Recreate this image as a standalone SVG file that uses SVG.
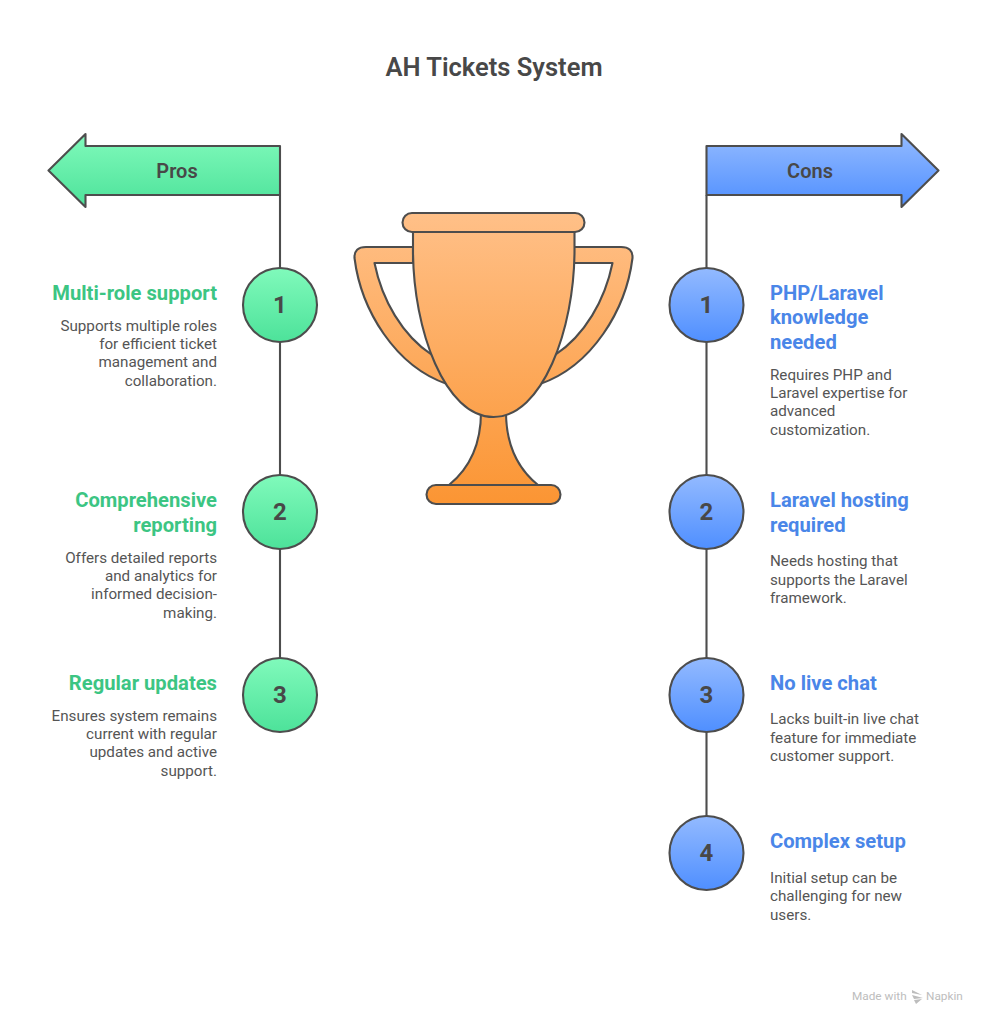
<svg xmlns="http://www.w3.org/2000/svg" width="987" height="1024" viewBox="0 0 987 1024">
<style>
text{font-family:Roboto,"Liberation Sans",sans-serif}
.s{stroke:#4d4d4d;stroke-width:2.1;stroke-linejoin:round}
.title{font-size:25.5px;font-weight:600;fill:#484848;text-anchor:middle}
.band{font-size:20px;font-weight:600;fill:#484848;text-anchor:middle}
.num{font-size:24px;font-weight:700;fill:#484848;text-anchor:middle}
.h{font-size:20.2px;font-weight:700}
.g{fill:#3cc583}.b{fill:#4a86e8}
.d{font-size:15.2px;fill:#555}
.r{text-anchor:end}
.gf{fill:url(#green)}.bf{fill:url(#blue)}
.tf{fill:url(#tro)}
.mark{font-size:11.8px;fill:#bdbdbd}
</style>
<defs>
<linearGradient id="green" x1="0" y1="0" x2="0" y2="1"><stop offset="0" stop-color="#80fabb"/><stop offset="1" stop-color="#4de29a"/></linearGradient>
<linearGradient id="blue" x1="0" y1="0" x2="0" y2="1"><stop offset="0" stop-color="#93baff"/><stop offset="1" stop-color="#4f8fff"/></linearGradient>
<linearGradient id="tro" gradientUnits="userSpaceOnUse" x1="0" y1="213" x2="0" y2="504"><stop offset="0" stop-color="#ffc088"/><stop offset="1" stop-color="#fb9533"/></linearGradient>
</defs>
<rect width="987" height="1024" fill="#fff"/>
<text class="title" x="494" y="76">AH Tickets System</text>
<g id="connectors" fill="none" class="s">
<path d="M280 195V268M280 342V475M280 549V658"/>
<path d="M706.500 195V268M706.500 342V475M706.500 549V658M706.500 732V816"/>
</g>
<g id="pros-arrow"><path class="s gf" d="M280 146V195H85.500V207L48.500 170.500L85.500 134V146Z"/><text class="band" x="177" y="178">Pros</text></g>
<g id="cons-arrow"><path class="s bf" d="M706.500 146V195H901.500V207L938.500 170.500L901.500 134V146Z"/><text class="band" x="810" y="178">Cons</text></g>
<g id="trophy">
<path class="s tf" fill-rule="evenodd" d="M413 247H366Q354 247 354.500 258C361 310 395 366 447 384L470 400H517L540 384C592 366 626 310 632.500 258Q633 247 621 247H574V263H612.500C605 300 585 335 555 355L540 372H447L432 355C402 335 382 300 374.500 263H413Z"/>
<path class="s tf" d="M481 412C481 445 470 468 449 485H538C517 468 506 445 506 412Z"/>
<path class="s tf" d="M413 232V250C413 330 445 417 493.500 417C542 417 574.500 330 574.500 250V232Z"/>
<rect class="s tf" x="402.500" y="213" width="182" height="19" rx="9.500"/>
<rect class="s tf" x="426.500" y="485" width="134" height="19" rx="9.500"/>
</g>
<g id="pro-1"><circle class="s gf" cx="280" cy="305" r="37"/><text class="num" x="280" y="313">1</text>
<text class="h g r" x="217" y="300">Multi-role support</text>
<text class="d r" x="217" y="331">Supports multiple roles</text><text class="d r" x="217" y="349">for efficient ticket</text><text class="d r" x="217" y="367">management and</text><text class="d r" x="217" y="386">collaboration.</text></g>
<g id="pro-2"><circle class="s gf" cx="280" cy="512" r="37"/><text class="num" x="280" y="520">2</text>
<text class="h g r" x="217" y="507">Comprehensive</text><text class="h g r" x="217" y="532">reporting</text>
<text class="d r" x="217" y="563">Offers detailed reports</text><text class="d r" x="217" y="581">and analytics for</text><text class="d r" x="217" y="599">informed decision-</text><text class="d r" x="217" y="618">making.</text></g>
<g id="pro-3"><circle class="s gf" cx="280" cy="695" r="37"/><text class="num" x="280" y="703">3</text>
<text class="h g r" x="217" y="690">Regular updates</text>
<text class="d r" x="217" y="721">Ensures system remains</text><text class="d r" x="217" y="739">current with regular</text><text class="d r" x="217" y="757">updates and active</text><text class="d r" x="217" y="776">support.</text></g>
<g id="con-1"><circle class="s bf" cx="706.500" cy="305" r="37"/><text class="num" x="706.500" y="313">1</text>
<text class="h b" x="770" y="300">PHP/Laravel</text><text class="h b" x="770" y="324">knowledge</text><text class="h b" x="770" y="349">needed</text>
<text class="d" x="770" y="380">Requires PHP and</text><text class="d" x="770" y="398">Laravel expertise for</text><text class="d" x="770" y="416">advanced</text><text class="d" x="770" y="435">customization.</text></g>
<g id="con-2"><circle class="s bf" cx="706.500" cy="512" r="37"/><text class="num" x="706.500" y="520">2</text>
<text class="h b" x="770" y="507">Laravel hosting</text><text class="h b" x="770" y="532">required</text>
<text class="d" x="770" y="566">Needs hosting that</text><text class="d" x="770" y="585">supports the Laravel</text><text class="d" x="770" y="603">framework.</text></g>
<g id="con-3"><circle class="s bf" cx="706.500" cy="695" r="37"/><text class="num" x="706.500" y="703">3</text>
<text class="h b" x="770" y="690">No live chat</text>
<text class="d" x="770" y="724">Lacks built-in live chat</text><text class="d" x="770" y="743">feature for immediate</text><text class="d" x="770" y="761">customer support.</text></g>
<g id="con-4"><circle class="s bf" cx="706.500" cy="853" r="37"/><text class="num" x="706.500" y="861">4</text>
<text class="h b" x="770" y="848">Complex setup</text>
<text class="d" x="770" y="883">Initial setup can be</text><text class="d" x="770" y="901">challenging for new</text><text class="d" x="770" y="920">users.</text></g>
<g id="watermark"><text class="mark" x="852" y="1000">Made with</text>
<path d="M912 990L922 995L912 993ZM912 995L923 998L914 999ZM914 1000L922 999L916 1004Z" fill="#bdbdbd"/>
<text class="mark" x="926" y="1000">Napkin</text></g>
</svg>
